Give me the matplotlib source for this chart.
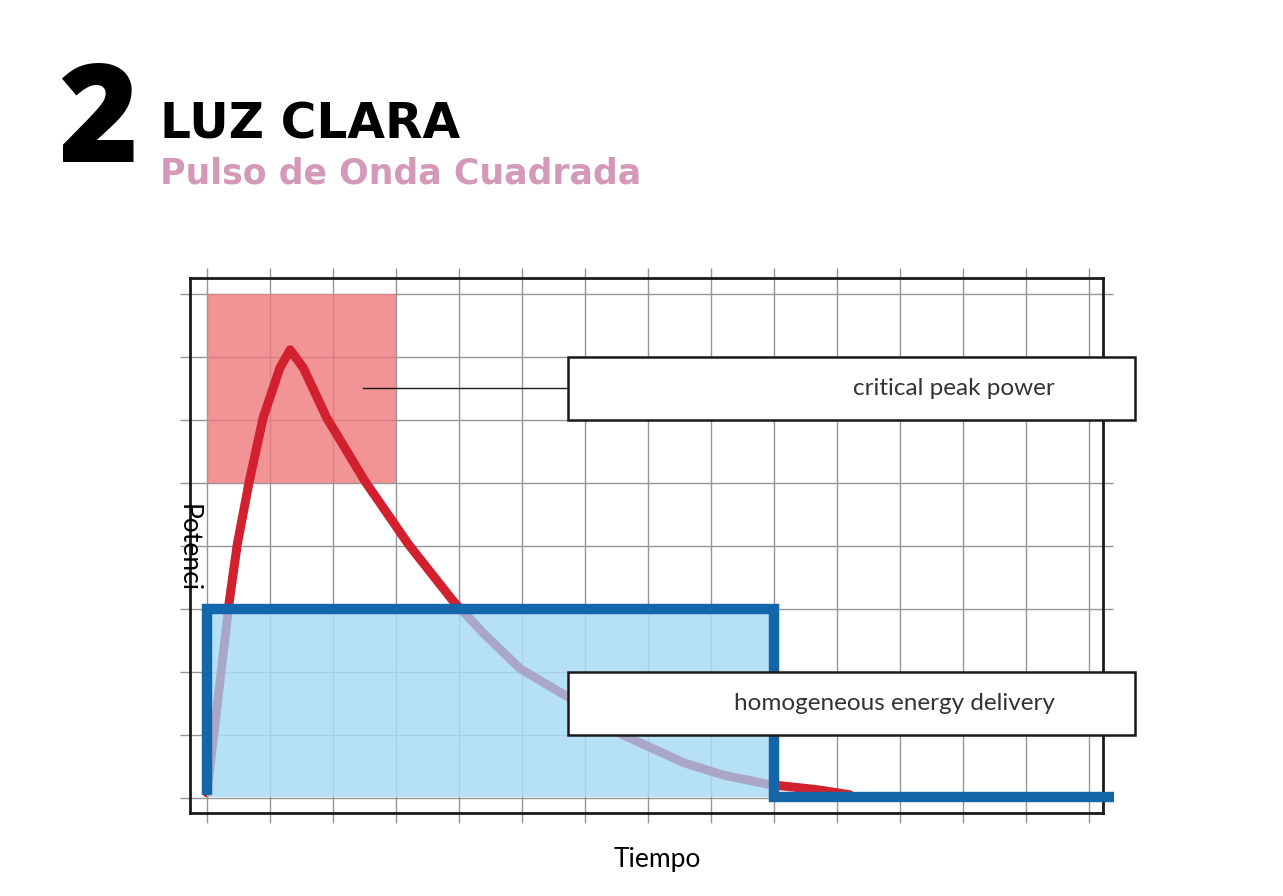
import matplotlib.pyplot as plt
from matplotlib.patches import Rectangle

# red pulse (grid units)
curve_t = [0.0, 0.354, 0.48, 0.67, 0.89, 1.16, 1.32, 1.53, 1.90, 2.51, 3.20, 3.91,
           4.4, 4.97, 5.73, 6.6, 7.56, 8.2, 8.94, 9.68, 10.2]
curve_p = [0.08, 3.12, 4.02, 5.02, 6.03, 6.83, 7.11, 6.82, 6.03, 5.02, 4.02, 3.12,
           2.6, 2.05, 1.60, 1.0, 0.56, 0.36, 0.21, 0.13, 0.05]

# square pulse
pulse_t = [0.0, 0.0, 9.0, 9.0, 14.4]
pulse_p = [0.05, 3.0, 3.0, 0.02, 0.02]
pulse_start, pulse_end, pulse_level, pulse_base = 0.0, 9.0, 3.0, 0.02

# critical zone
zone_t = [0.0, 3.0]
zone_low, zone_high = 5.0, 8.0

labels = ['critical peak power', 'homogeneous energy delivery']
label_p = [6.5, 1.5]

fig = plt.figure(figsize=(12.83, 8.96), dpi=100)
ax = fig.add_axes([190/1283, 1-813/896, 913/1283, 535/896])

ax.set_xlim(-0.27, 14.22)
ax.set_ylim(-0.24, 8.25)
ax.set_xticks(range(0, 15))
ax.set_yticks(range(0, 9))
ax.set_xticklabels([])
ax.set_yticklabels([])
ax.set_axisbelow(True)
ax.grid(True, color='#959595', linewidth=1.0)
ax.tick_params(which='both', direction='out', length=7, width=1.0, color='#959595',
               top=True, right=True, left=True, bottom=True)
for s in ax.spines.values():
    s.set_color('#1a1a1a')
    s.set_linewidth(2)

# pink zone
ax.fill_between(zone_t, zone_low, zone_high, color='#ef787c', alpha=0.8, lw=0, zorder=1)

# red curve
ax.plot(curve_t, curve_p, color='#d2202f', lw=6.5, solid_capstyle='round',
        solid_joinstyle='round', zorder=2)

# blue fill
ax.fill_between([pulse_start, pulse_end], pulse_base, pulse_level, color='#a8dbf5',
                alpha=0.85, lw=0, zorder=3)

# curve seen through the fill
clip = Rectangle((pulse_start, pulse_base), pulse_end - pulse_start, pulse_level - pulse_base,
                 transform=ax.transData)
ln, = ax.plot(curve_t, curve_p, color='#a9a6c8', lw=6, solid_capstyle='round',
              solid_joinstyle='round', zorder=4)
ln.set_clip_path(clip)

# blue outline
ax.plot(pulse_t, pulse_p, color='#1466aa', lw=7.5, solid_joinstyle='miter',
        solid_capstyle='butt', zorder=5, clip_on=False)

# callout boxes
for lab, yc in zip(labels, label_p):
    ax.add_patch(Rectangle((5.73, yc - 0.5), 9.0, 1.0, facecolor='white', edgecolor='#1a1a1a',
                           lw=1.8, zorder=6, clip_on=False))
    ax.text(13.46, yc, lab, ha='right', va='center', fontsize=17.5, family='Lato',
            color='#333333', zorder=7)
ax.plot([2.48, 5.73], [6.51, 6.51], color='#1a1a1a', lw=1, zorder=6)

ax.text(-0.30, 3.97, 'Potenci', rotation=-90, ha='center', va='center', fontsize=19,
        family='Lato', color='black', zorder=8, clip_on=False)
fig.text(657/1283, 1-867/896, 'Tiempo', ha='center', va='baseline', fontsize=19,
         family='Lato', color='black')

# header
fig.text(58/1283, 1-162/896, '2', fontsize=98, fontweight='heavy', family='Open Sans',
         color='black', va='baseline', ha='left')
fig.text(160/1283, 1-138/896, 'LUZ CLARA', fontsize=35, fontweight='bold',
         family='DejaVu Sans', color='black', va='baseline', ha='left')
fig.text(160/1283, 1-184/896, 'Pulso de Onda Cuadrada', fontsize=25, fontweight='bold',
         family='DejaVu Sans', color='#d498b8', va='baseline', ha='left')

fig.savefig('out.png', dpi=100)
